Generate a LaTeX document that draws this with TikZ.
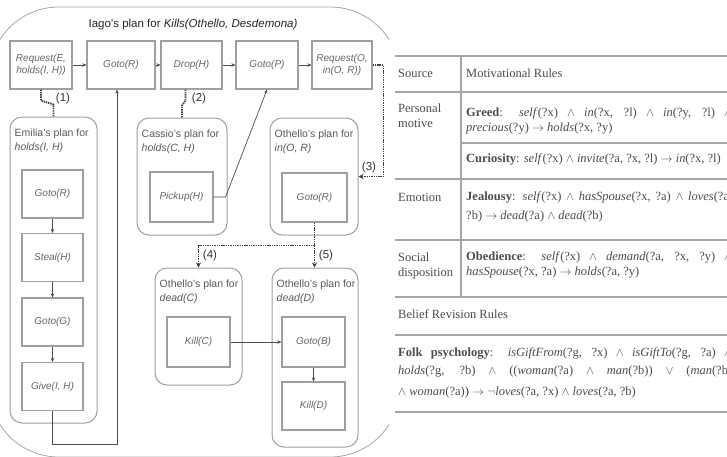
\documentclass[tikz,border=0pt]{standalone}
\usepackage{fontspec}
\setmainfont{Liberation Sans}
\newfontfamily\tabfont{Liberation Serif}
\usetikzlibrary{arrows.meta}

\begin{document}
\begin{tikzpicture}[x=1pt,y=-1pt,
  act/.style={draw=gray!75, line width=1.1pt, minimum width=62pt, minimum height=48pt,
    inner sep=1pt, align=center, font=\fontsize{10}{11.5}\selectfont\itshape, text=black!60},
  plan/.style={draw=gray!75, line width=1pt, rounded corners=12pt, inner sep=0pt},
  plantext/.style={anchor=north west, inner sep=0pt, align=left,
    font=\fontsize{10.5}{14.5}\selectfont, text=black!65},
  flow/.style={draw=black!70, line width=0.7pt, -{Stealth[length=4pt,width=3.5pt]}},
  link/.style={draw=black!75, line width=1.8pt, dash pattern=on 1.4pt off 0.9pt},
  linkhead/.style={-{Stealth[length=5pt,width=5pt]}},
  num/.style={font=\fontsize{11.5}{12}\selectfont, text=black!80, inner sep=0pt},
  rule/.style={draw=gray!70, line width=1.6pt},
  cell/.style={anchor=west, inner sep=0pt, font=\tabfont\fontsize{12.5}{14}\selectfont, text=black!70},
]
\useasboundingbox (0,0) rectangle (727,456);
\fill[white] (0,0) rectangle (727,456);
\clip (0,0) rectangle (727,456);

% outer frame of the plan
\begin{scope}
  \clip (-20,-20) rectangle (389,470);
  \draw[gray!70, line width=0.8pt, rounded corners=70pt] (-11,7) rectangle (400,457);
\end{scope}

\node[font=\fontsize{11.5}{13}\selectfont, text=black!85] (title) at (193,25)
  {Iago's plan for \textit{Kills(Othello, Desdemona)}};

% top-level steps
\node[act] (reqE) at (41,65) {Request(E,\\holds(I, H))};
\node[act, minimum width=68pt] (gotoR) at (121,65) {Goto(R)};
\node[act, minimum width=61pt] (drop) at (191.5,65) {Drop(H)};
\node[act] (gotoP) at (267,65) {Goto(P)};
\node[act, minimum width=60pt] (reqO) at (342,65) {Request(O,\\in(O, R))};

\draw[flow] (reqE.east) -- (gotoR.west);
\draw[flow] (gotoR.east) -- (drop.west);
\draw[flow] (drop.east) -- (gotoP.west);
\draw[flow] (gotoP.east) -- (reqO.west);

% Emilia's plan
\node[plan, minimum width=87pt, minimum height=306pt] (emilia) at (53.5,270) {};
\node[plantext] (emiliaT) at ([shift={(5,12)}]emilia.north west) {Emilia's plan for\\\textit{holds(I, H)}};
\node[act, minimum width=61pt] (goE1) at (52.5,194) {Goto(R)};
\node[act, minimum width=61pt] (steal) at (52.5,257.5) {Steal(H)};
\node[act, minimum width=61pt] (goE2) at (52.5,322) {Goto(G)};
\node[act, minimum width=61pt] (give) at (52.5,386.5) {Give(I, H)};
\draw[flow] (goE1) -- (steal);
\draw[flow] (steal) -- (goE2);
\draw[flow] (goE2) -- (give);

% Cassio's plan
\node[plan, minimum width=90pt, minimum height=117pt] (cassio) at (182,176.5) {};
\node[plantext] (cassioT) at ([shift={(5,12)}]cassio.north west) {Cassio's plan for\\\textit{holds(C, H)}};
\node[act, minimum width=63pt, minimum height=50pt] (pick) at (181.5,197) {Pickup(H)};

% Othello's plan for in(O, R)
\node[plan, minimum width=88pt, minimum height=117pt] (othR) at (314,176.5) {};
\node[plantext] (othRT) at ([shift={(5,12)}]othR.north west) {Othello's plan for\\\textit{in(O, R)}};
\node[act, minimum width=65pt, minimum height=49pt] (goO) at (314.5,197.5) {Goto(R)};

% Othello's plan for dead(C)
\node[plan, minimum width=87pt, minimum height=117pt] (deadC) at (198.5,326.5) {};
\node[plantext] (deadCT) at ([shift={(5,12)}]deadC.north west) {Othello's plan for\\\textit{dead(C)}};
\node[act, minimum width=63pt, minimum height=50pt] (killC) at (198.5,342) {Kill(C)};

% Othello's plan for dead(D)
\node[plan, minimum width=86pt, minimum height=179pt] (deadD) at (315,357.5) {};
\node[plantext] (deadDT) at ([shift={(5,12)}]deadD.north west) {Othello's plan for\\\textit{dead(D)}};
\node[act, minimum width=63pt, minimum height=50pt] (gotoB) at (313.5,342) {Goto(B)};
\node[act, minimum width=63pt, minimum height=48pt] (killD) at (313.5,406) {Kill(D)};
\draw[flow] (gotoB) -- (killD);
\draw[flow] (killC.east) -- (gotoB.west);

% ordering links between plans
\draw[flow] (give.south) -- ++(0,33) -| ([xshift=-4pt]gotoR.south);
\draw[flow] (pick.east) -- ++(12,0) -- (gotoP.south);

% sub-plan links
\draw[link] (reqE.south) -- ++(0,11) -- ([yshift=12pt]emilia.north) -- (emilia.north);
\node[num] (l1) at (63,99) {(1)};
\draw[link] ([xshift=-6pt]drop.south) -- ++(0,11) -- ([yshift=12pt]cassio.north) -- (cassio.north);
\node[num] (l2) at (199,99) {(2)};
\draw[link, linkhead] (reqO.east) -- ++(11,0) |- (othR.east);
\node[num] (l3) at (369,168) {(3)};
\draw[link] (goO.south) -- ++(0,23) coordinate (split);
\draw[link, linkhead] (split) -| (deadC.north);
\draw[link, linkhead] (split) -- (split |- deadD.north);
\node[num] (l4) at (210,256) {(4)};
\node[num] (l5) at (326,256) {(5)};

% rule table
\draw[rule] (395,56) -- (740,56);
\draw[rule] (395,92) -- (740,92);
\draw[rule] (461,143) -- (740,143);
\draw[rule] (395,179) -- (740,179);
\draw[rule] (395,240) -- (740,240);
\draw[rule] (395,297) -- (740,297);
\draw[rule] (395,335) -- (740,335);
\draw[rule] (395,412) -- (740,412);
\draw[rule] (461,56) -- (461,297);

\node[cell] (srcH) at (398,73) {Source};
\node[cell] (motH) at (466,73) {Motivational Rules};
\node[cell] (pers1) at (398,108) {Personal};
\node[cell] (pers2) at (398,123) {motive};
\node[cell] (greed1) at (466,113) {\makebox[266pt][s]{\textbf{Greed}: \textit{self}(?x) $\wedge$ \textit{in}(?x, ?l) $\wedge$ \textit{in}(?y, ?l) $\wedge$}};
\node[cell] (greed2) at (466,129) {\textit{precious}(?y) $\rightarrow$ \textit{holds}(?x, ?y)};
\node[cell] (cur) at (466,159) {\textbf{Curiosity}: \textit{self}(?x) $\wedge$ \textit{invite}(?a, ?x, ?l) $\rightarrow$ \textit{in}(?x, ?l)};
\node[cell] (emo) at (398,197) {Emotion};
\node[cell] (jeal1) at (466,197) {\makebox[266pt][s]{\textbf{Jealousy}: \textit{self}(?x) $\wedge$ \textit{hasSpouse}(?x, ?a) $\wedge$ \textit{loves}(?a,}};
\node[cell] (jeal2) at (466,216) {?b) $\rightarrow$ \textit{dead}(?a) $\wedge$ \textit{dead}(?b)};
\node[cell] (soc1) at (398,257) {Social};
\node[cell] (soc2) at (398,273) {disposition};
\node[cell] (obe1) at (466,257) {\makebox[266pt][s]{\textbf{Obedience}: \textit{self}(?x) $\wedge$ \textit{demand}(?a, ?x, ?y) $\wedge$}};
\node[cell] (obe2) at (466,273) {\textit{hasSpouse}(?x, ?a) $\rightarrow$ \textit{holds}(?a, ?y)};
\node[cell] (belief) at (398,314) {Belief Revision Rules};
\node[cell] (folk1) at (398,353) {\makebox[334pt][s]{\textbf{Folk psychology}: \textit{isGiftFrom}(?g, ?x) $\wedge$ \textit{isGiftTo}(?g, ?a) $\wedge$}};
\node[cell] (folk2) at (398,372) {\makebox[334pt][s]{\textit{holds}(?g, ?b) $\wedge$ ((\textit{woman}(?a) $\wedge$ \textit{man}(?b)) $\vee$ (\textit{man}(?b)}};
\node[cell] (folk3) at (398,392) {$\wedge$ \textit{woman}(?a)) $\rightarrow$ $\neg$\textit{loves}(?a, ?x) $\wedge$ \textit{loves}(?a, ?b)};
\end{tikzpicture}
\end{document}
